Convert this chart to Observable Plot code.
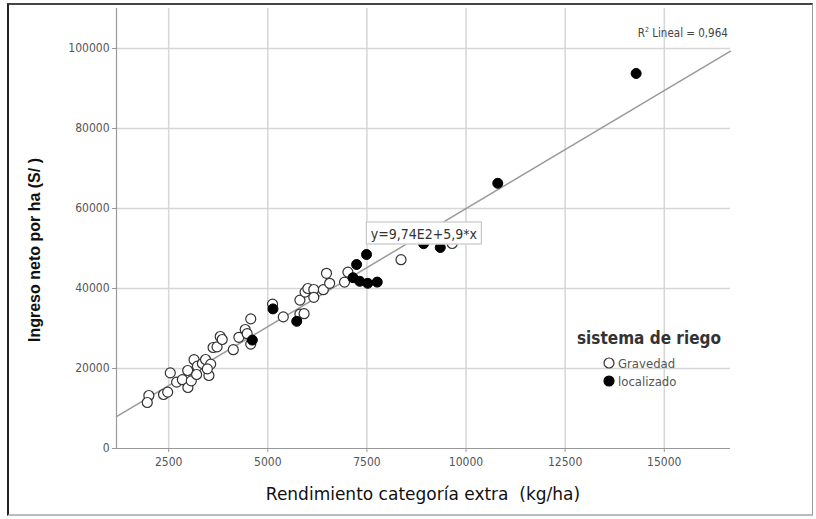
<!DOCTYPE html>
<html><head><meta charset="utf-8">
<script src="https://cdn.jsdelivr.net/npm/d3@7"></script>
<script src="https://cdn.jsdelivr.net/npm/@observablehq/plot@0.6"></script>
<style>
html,body{margin:0;padding:0;background:#fff;}
#wrap{position:relative;width:816px;height:519px;overflow:hidden;font-family:"DejaVu Sans Condensed","DejaVu Sans",sans-serif;background:#fff;}
#wrap svg{position:absolute;left:0;top:0;}
.ov{position:absolute;white-space:pre;line-height:1;}
#frame{position:absolute;left:7px;top:3px;width:806px;height:513px;border-left:2px solid #222;border-top:2px solid #444;border-right:1px solid #999;border-bottom:2px solid #bbb;box-sizing:border-box;pointer-events:none}
</style></head><body><div id="wrap"></div>
<script>
// Data
const gravedadX = [2000,1960,2370,2475,2540,2700,2845,2985,3070,2980,3140,3225,3205,3350,3430,3560,3515,3475,3620,3720,3800,3850,4130,4270,4430,4480,4570,4570,5120,5390,5810,5915,5810,5940,6010,6160,6160,6400,6560,6480,6935,7020,8360,9650];
const gravedadY = [13250,11500,13500,14100,18900,16600,17200,15250,16900,19500,22200,20600,18500,21250,22250,21100,18250,19900,25250,25400,28000,27250,24700,27800,29750,28700,32400,26100,36100,32900,33600,33700,37100,39100,40000,39750,37800,39700,41300,43800,41600,44100,47200,51250];
const localizadoX = [4610,5130,5730,7150,7240,7490,7320,7520,7760,8930,9350,10800,14290];
const localizadoY = [27100,34900,31800,42700,46000,48500,41800,41300,41600,51200,50250,66300,93750];
const seriesNames = ["Gravedad","localizado"];
const xTicks = [2500,5000,7500,10000,12500,15000];
const yTicks = [0,20000,40000,60000,80000,100000];
const xDomain = [1184,16670];
const yDomain = [0,110000];
const fitIntercept = 974, fitSlope = 5.9;
const fitLabel = "y=9,74E2+5,9*x";
const r2Label = "0,964";
const eqPos = [8950,53750];
const r2Pos = [15480,103750];
const xTitle = "Rendimiento categoría extra  (kg/ha)";
const yTitle = "Ingreso neto por ha (S/ )";
const legendTitle = "sistema de riego";

const grav = gravedadX.map((x,i)=>({x, y: gravedadY[i]}));
const loc = localizadoX.map((x,i)=>({x, y: localizadoY[i]}));
const fitLine = xDomain.map(x=>({x, y: fitIntercept + fitSlope*x}));

const plot = Plot.plot({
  width: 816, height: 519,
  marginLeft: 116, marginRight: 86, marginTop: 8, marginBottom: 71,
  x: {domain: xDomain, label: null},
  y: {domain: yDomain, label: null},
  style: {fontFamily: '"DejaVu Sans Condensed","DejaVu Sans",sans-serif', fontSize: "12px", color: "#555", background: "transparent"},
  marks: [
    Plot.gridX(xTicks, {stroke: "#d6d6d6", strokeOpacity: 1, strokeWidth: 1.5}),
    Plot.gridY(yTicks.filter(d=>d>0), {stroke: "#d6d6d6", strokeOpacity: 1, strokeWidth: 1.5}),
    Plot.ruleX([xDomain[0]], {stroke: "#999", strokeWidth: 1.2}),
    Plot.ruleY([yDomain[0]], {stroke: "#999", strokeWidth: 1.2}),
    Plot.axisX(xTicks, {tickSize: 4, tickPadding: 5, stroke: "#999", tickFormat: d=>String(d), label: null, fill: "#555"}),
    Plot.axisY(yTicks, {tickSize: 4, tickPadding: 3, stroke: "#999", tickFormat: d=>String(d), label: null, fill: "#555"}),
    Plot.line(fitLine, {x: "x", y: "y", stroke: "#9a9a9a", strokeWidth: 1.5}),
    Plot.dot(grav, {x: "x", y: "y", r: 5, fill: "white", stroke: "#333", strokeWidth: 1.2}),
    Plot.dot(loc, {x: "x", y: "y", r: 5, fill: "#000", stroke: "#000", strokeWidth: 1})
  ]
});
const wrap = document.getElementById("wrap");
wrap.appendChild(plot);
const sx = plot.scale("x"), sy = plot.scale("y");

function ov(html, css){ const d=document.createElement("div"); d.className="ov"; d.innerHTML=html; Object.assign(d.style, css); wrap.appendChild(d); return d; }

// equation box
const ex = sx.apply(eqPos[0]), ey = sy.apply(eqPos[1]);
ov(fitLabel, {left: ex+"px", top: ey+"px", transform: "translate(-50%,-50%)", background: "#fff", border: "1px solid #bbb", padding: "4px 4px 3px 4px", fontSize: "14px", color: "#333"});
// R2 label
ov("R<sup style='font-size:7px'>2</sup> Lineal = " + r2Label, {left: sx.apply(r2Pos[0])+"px", top: sy.apply(r2Pos[1])+"px", transform: "translate(-50%,-50%)", fontSize: "11.5px", color: "#444"});
// axis titles
ov(xTitle, {left: "423px", top: "494px", transform: "translate(-50%,-50%)", fontFamily: '"DejaVu Sans",sans-serif', fontSize: "17px", color: "#111"});
ov(yTitle, {left: "35px", top: "250px", transform: "translate(-50%,-50%) rotate(-90deg)", fontFamily: '"Liberation Sans Narrow","Liberation Sans",sans-serif', fontSize: "16px", fontWeight: "bold", color: "#111"});
// legend
ov(legendTitle, {left: "577px", top: "330px", fontSize: "17px", fontWeight: "bold", color: "#333"});
const legSvg = `<svg width="12" height="12" style="position:absolute;left:-15px;top:0px"><circle cx="6" cy="6" r="5" fill="FILL" stroke="STROKE" stroke-width="1.2"/></svg>`;
ov(legSvg.replace("FILL","#fff").replace("STROKE","#333") + seriesNames[0], {left: "618px", top: "357px", fontSize: "13px", color: "#555"});
ov(legSvg.replace("FILL","#000").replace("STROKE","#000") + seriesNames[1], {left: "618px", top: "375px", fontSize: "13px", color: "#555"});
const fr = document.createElement("div"); fr.id="frame"; wrap.appendChild(fr);
</script></body></html>
